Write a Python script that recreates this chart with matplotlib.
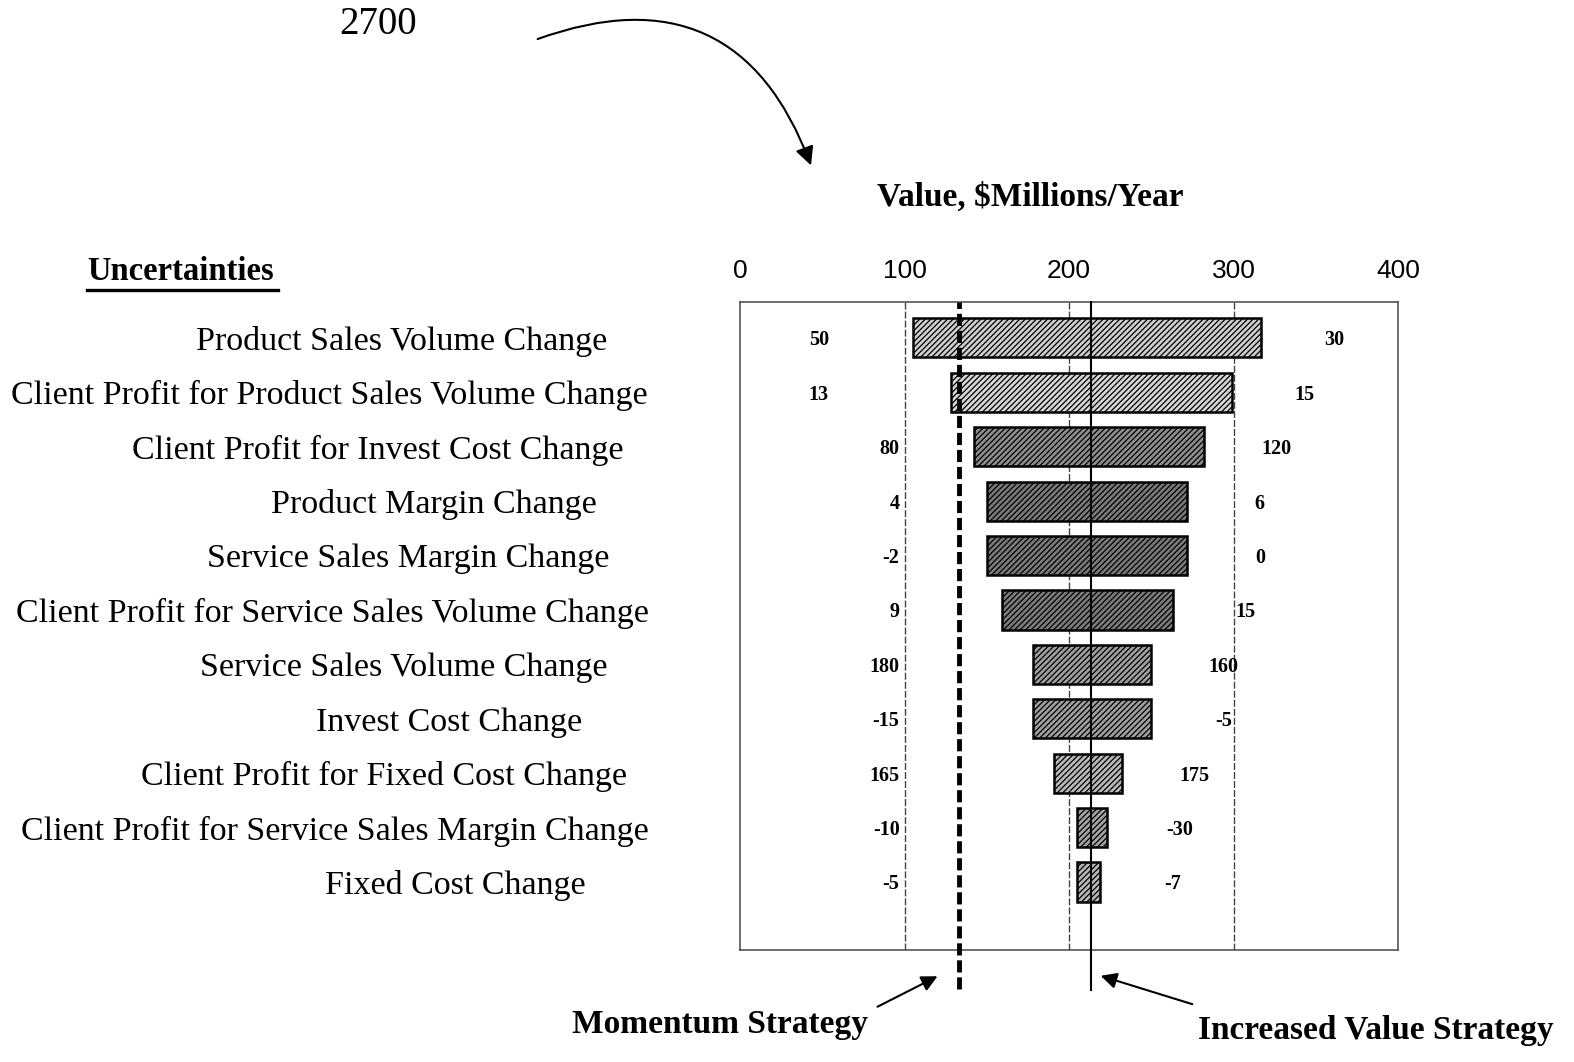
import matplotlib.pyplot as plt
from matplotlib.transforms import blended_transform_factory

# Tornado chart data ($Millions/Year)
uncertainties = [
    "Product Sales Volume Change",
    "Client Profit for Product Sales Volume Change",
    "Client Profit for Invest Cost Change",
    "Product Margin Change",
    "Service Sales Margin Change",
    "Client Profit for Service Sales Volume Change",
    "Service Sales Volume Change",
    "Invest Cost Change",
    "Client Profit for Fixed Cost Change",
    "Client Profit for Service Sales Margin Change",
    "Fixed Cost Change",
]
low_value = [105, 128, 142, 150, 150, 159, 178, 178, 191, 205, 205]
high_value = [317, 299, 282, 272, 272, 263, 250, 250, 232, 223, 219]
low_setting = [50, 13, 80, 4, -2, 9, 180, -15, 165, -10, -5]
high_setting = [30, 15, 120, 6, 0, 15, 160, -5, 175, -30, -7]
momentum_value = 133
increased_value = 213.5
x_ticks = [0, 100, 200, 300, 400]

# bar shading and label placement
bar_colors = ["#cfcfcf", "#d6d6d6", "#8e8e8e", "#7a7a7a", "#7a7a7a", "#7c7c7c",
              "#a0a0a0", "#a0a0a0", "#bababa", "#a4a4a4", "#b8b8b8"]
label_right = [607, 648, 623, 597, 609, 649, 608, 582, 627, 649, 586]

plt.rcParams['font.family'] = ['Liberation Serif', 'DejaVu Serif']
plt.rcParams['hatch.linewidth'] = 0.9
plt.rcParams['hatch.color'] = '#222222'

W, H = 1574, 1062
fig = plt.figure(figsize=(W / 100, H / 100), dpi=100)
ax = fig.add_axes([740 / W, 1 - 950 / H, 658 / W, 648 / H])

rows = list(range(len(uncertainties)))
for i in rows:
    ax.barh(i, high_value[i] - low_value[i], left=low_value[i], height=0.72,
            color=bar_colors[i], edgecolor='black', linewidth=1.8, hatch='//////',
            zorder=3)
    left_x = 54 if high_value[i] - low_value[i] > 150 else 97
    ax.text(left_x, i, str(low_setting[i]), ha='right', va='center_baseline',
            fontsize=14.5, fontweight='bold', zorder=5)
    ax.text(high_value[i] + 44, i, str(high_setting[i]), ha='center',
            va='center_baseline', fontsize=14.5, fontweight='bold', zorder=5)

ax.set_xlim(0, 400)
ax.set_ylim(11.25, -0.66)
ax.set_yticks([])
ax.xaxis.tick_top()
ax.set_xticks(x_ticks)
ax.set_xticklabels([str(t) for t in x_ticks], family='Liberation Sans', fontsize=19)
ax.tick_params(axis='x', length=0, pad=14)

for t in x_ticks[1:-1]:
    ax.axvline(t, color='#444444', linewidth=1.0, linestyle=(0, (5, 1.5)), zorder=1)
for s in ax.spines.values():
    s.set_color('#555555')
    s.set_linewidth(1.2)
    s.set_linestyle((0, (2, 1)))

# strategy reference lines
ax.axvline(momentum_value, ymin=-0.06, ymax=1, color='black', linewidth=3.5,
           linestyle=(0, (2.5, 1)), clip_on=False, zorder=4)
ax.axvline(increased_value, ymin=-0.062, ymax=1, color='black', linewidth=1.5,
           clip_on=False, zorder=4)

# uncertainty names to the left of the bars
trans = blended_transform_factory(fig.transFigure, ax.transData)
for i in rows:
    ax.text(label_right[i] / W, i, uncertainties[i], transform=trans, ha='right',
            va='center_baseline', fontsize=24.5, clip_on=False)

fig.text(87 / W, 1 - 272 / H, "Uncertainties", fontsize=23.5, fontweight='bold',
         ha='left', va='center')
fig.add_artist(plt.Line2D([87 / W, 278 / W], [1 - 290 / H, 1 - 290 / H],
                          color='black', linewidth=2.4))
fig.text(1030 / W, 1 - 197 / H, "Value, $Millions/Year", fontsize=24,
         fontweight='bold', ha='center', va='center')
fig.text(378 / W, 1 - 25 / H, "2700", fontsize=28, ha='center', va='center')

fig.add_artist(plt.matplotlib.patches.FancyArrowPatch(
    (535 / W, 1 - 40 / H), (812 / W, 1 - 168 / H), transform=fig.transFigure,
    connectionstyle="arc3,rad=-0.5", arrowstyle='-|>', mutation_scale=28,
    color='black', linewidth=1.5))

fig.text(720 / W, 1 - 1025 / H, "Momentum Strategy", fontsize=24,
         fontweight='bold', ha='center', va='center')
fig.text(1376 / W, 1 - 1030 / H, "Increased Value Strategy", fontsize=24,
         fontweight='bold', ha='center', va='center')
fig.add_artist(plt.matplotlib.patches.FancyArrowPatch(
    (875 / W, 1 - 1008 / H), (940 / W, 1 - 975 / H), transform=fig.transFigure,
    arrowstyle='-|>', mutation_scale=24, color='black', linewidth=1.5))
fig.add_artist(plt.matplotlib.patches.FancyArrowPatch(
    (1195 / W, 1 - 1005 / H), (1098 / W, 1 - 975 / H), transform=fig.transFigure,
    arrowstyle='-|>', mutation_scale=24, color='black', linewidth=1.5))

fig.savefig('out.png', dpi=100)
